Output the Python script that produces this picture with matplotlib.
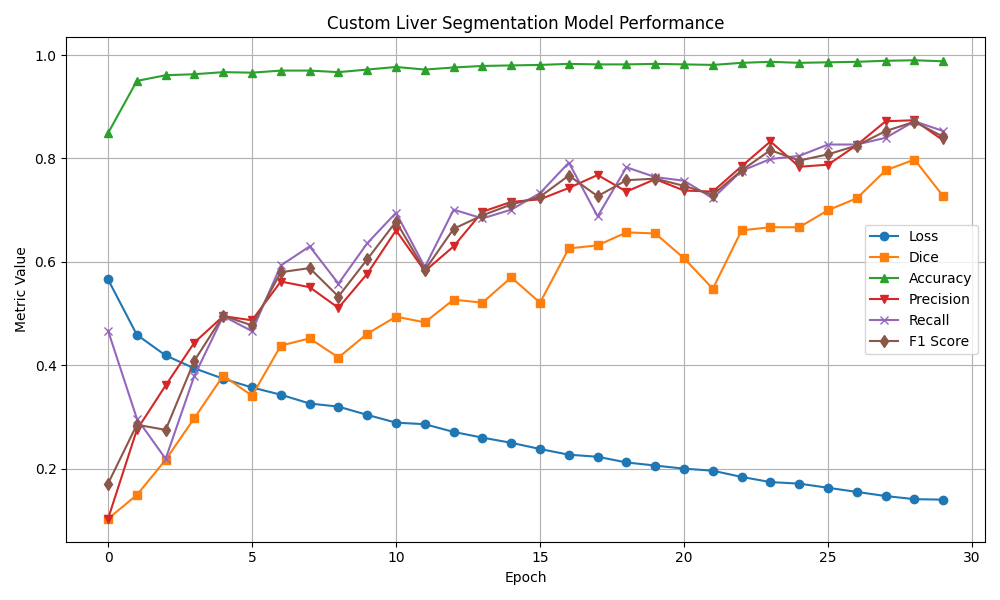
import matplotlib
matplotlib.use("Agg")
import matplotlib.pyplot as plt

epochs = list(range(30))
loss = [0.566, 0.459, 0.419, 0.394, 0.374, 0.357, 0.343, 0.326, 0.320, 0.304,
        0.289, 0.286, 0.271, 0.260, 0.250, 0.238, 0.227, 0.223, 0.212, 0.206,
        0.200, 0.196, 0.184, 0.174, 0.171, 0.163, 0.155, 0.147, 0.141, 0.140]
dice = [0.103, 0.149, 0.217, 0.298, 0.380, 0.341, 0.438, 0.452, 0.415, 0.461,
        0.494, 0.483, 0.527, 0.521, 0.570, 0.521, 0.626, 0.632, 0.657, 0.655,
        0.607, 0.548, 0.661, 0.667, 0.667, 0.700, 0.723, 0.777, 0.798, 0.727]
accuracy = [0.849, 0.950, 0.961, 0.963, 0.967, 0.966, 0.970, 0.970, 0.967, 0.972,
            0.977, 0.972, 0.976, 0.979, 0.980, 0.981, 0.983, 0.982, 0.982, 0.983,
            0.982, 0.981, 0.985, 0.987, 0.985, 0.986, 0.987, 0.989, 0.990, 0.988]
precision = [0.103, 0.275, 0.361, 0.444, 0.495, 0.487, 0.562, 0.551, 0.511, 0.577,
             0.661, 0.582, 0.630, 0.697, 0.716, 0.721, 0.743, 0.768, 0.736, 0.760,
             0.738, 0.736, 0.785, 0.833, 0.784, 0.788, 0.826, 0.872, 0.874, 0.835]
recall = [0.467, 0.297, 0.219, 0.380, 0.495, 0.466, 0.593, 0.630, 0.558, 0.636,
          0.695, 0.590, 0.701, 0.684, 0.701, 0.733, 0.792, 0.688, 0.783, 0.764,
          0.757, 0.723, 0.776, 0.799, 0.805, 0.827, 0.827, 0.840, 0.872, 0.853]
f1 = [0.171, 0.285, 0.275, 0.409, 0.496, 0.477, 0.580, 0.588, 0.533, 0.605,
      0.678, 0.584, 0.664, 0.690, 0.711, 0.726, 0.767, 0.727, 0.758, 0.761,
      0.747, 0.730, 0.777, 0.816, 0.796, 0.808, 0.825, 0.853, 0.871, 0.842]

fig, ax = plt.subplots(figsize=(10, 6), dpi=100)
ax.plot(epochs, loss, marker='o', label='Loss')
ax.plot(epochs, dice, marker='s', label='Dice')
ax.plot(epochs, accuracy, marker='^', label='Accuracy')
ax.plot(epochs, precision, marker='v', label='Precision')
ax.plot(epochs, recall, marker='x', label='Recall')
ax.plot(epochs, f1, marker='d', label='F1 Score')
ax.set_title('Custom Liver Segmentation Model Performance')
ax.set_xlabel('Epoch')
ax.set_ylabel('Metric Value')
ax.legend()
ax.grid(True)
fig.tight_layout()
fig.savefig('out.png')
